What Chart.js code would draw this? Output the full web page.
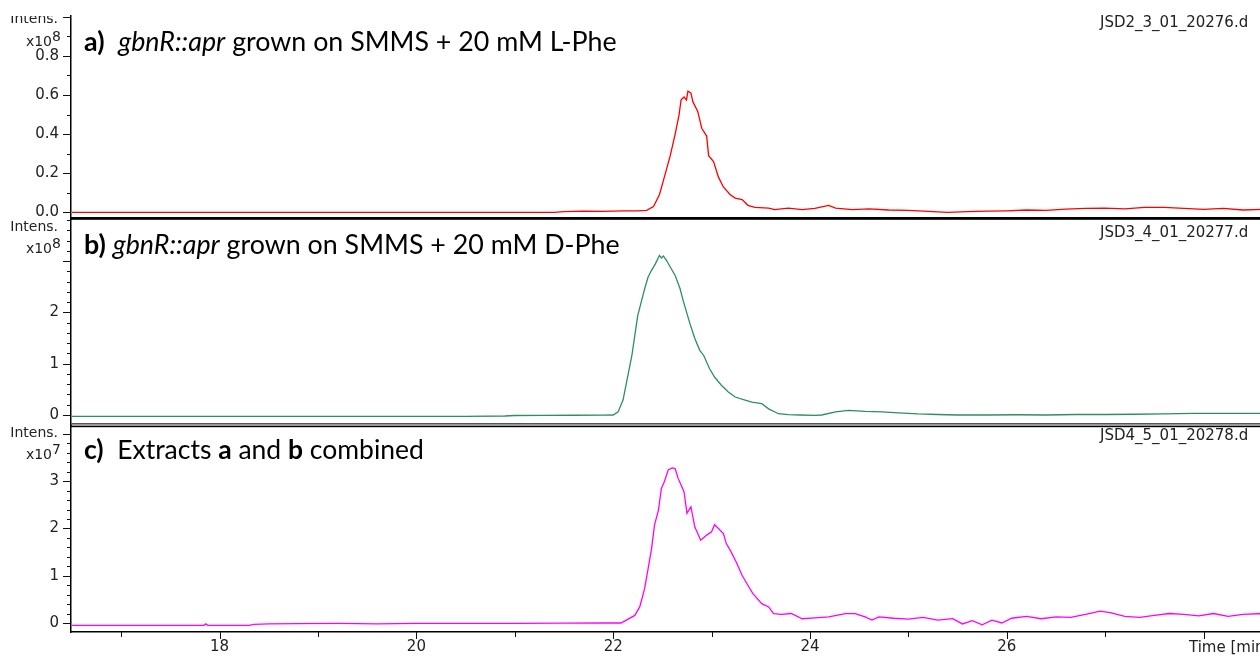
<!DOCTYPE html>
<html>
<head>
<meta charset="utf-8">
<script src="https://cdn.jsdelivr.net/npm/chart.js@4/dist/chart.umd.min.js"></script>
<style>
  html, body { margin: 0; padding: 0; background: #fff; overflow: hidden; }
  #wrap { position: relative; width: 1300px; height: 658px; }
</style>
</head>
<body>
<div id="wrap"><canvas id="chrom"></canvas></div>
<script>

// a) L-Phe, x10^8
const timeA = [16.5, 17.5, 18.5, 19.5, 20.5, 21.4, 21.5, 21.7, 21.9, 22.1, 22.25, 22.34, 22.41, 22.47,
  22.52, 22.58, 22.63, 22.67, 22.69, 22.72, 22.745, 22.76, 22.79, 22.81, 22.86, 22.9, 22.95, 22.97,
  23.02, 23.07, 23.12, 23.19, 23.24, 23.31, 23.37, 23.44, 23.58, 23.64, 23.78, 23.92, 24.05, 24.19,
  24.26, 24.43, 24.6, 24.8, 25.0, 25.2, 25.4, 25.6, 25.8, 26.0, 26.2, 26.4, 26.6, 26.8, 27.0, 27.2,
  27.4, 27.6, 27.8, 28.0, 28.2, 28.4, 28.6, 28.9];
const intensA = [0.0, 0.0, 0.0, 0.0, 0.0, 0.0, 0.004, 0.006, 0.005, 0.008, 0.008, 0.01, 0.03, 0.09,
  0.18, 0.29, 0.40, 0.50, 0.575, 0.59, 0.575, 0.62, 0.61, 0.566, 0.515, 0.43, 0.39, 0.29,
  0.26, 0.18, 0.13, 0.09, 0.073, 0.065, 0.036, 0.025, 0.022, 0.014, 0.022, 0.014, 0.02, 0.036,
  0.022, 0.014, 0.018, 0.012, 0.01, 0.005, 0.0, 0.004, 0.006, 0.008, 0.012, 0.01, 0.016, 0.02, 0.022, 0.018,
  0.025, 0.025, 0.02, 0.015, 0.02, 0.012, 0.015, 0.02];

// b) D-Phe, x10^8
const timeB = [16.5, 17.5, 18.5, 19.5, 20.5, 20.9, 21.0, 21.3, 21.6, 21.9, 22.0, 22.05, 22.1, 22.15,
  22.19, 22.22, 22.25, 22.29, 22.32, 22.355, 22.39, 22.43, 22.47, 22.49, 22.51, 22.54, 22.59, 22.63,
  22.68, 22.71, 22.745, 22.78, 22.83, 22.88, 22.92, 22.98, 23.03, 23.1, 23.17, 23.24, 23.34, 23.41,
  23.51, 23.58, 23.68, 23.78, 23.9, 24.05, 24.12, 24.26, 24.39, 24.56, 24.73, 24.9, 25.1, 25.3, 25.5,
  25.8, 26.1, 26.4, 26.7, 27.0, 27.3, 27.6, 27.9, 28.2, 28.6, 28.9];
const intensB = [-0.025, -0.025, -0.025, -0.025, -0.025, -0.02, -0.01, -0.008, -0.005, -0.002, 0.0, 0.06, 0.29, 0.77,
  1.16, 1.55, 1.94, 2.24, 2.46, 2.69, 2.82, 2.95, 3.11, 3.06, 3.10, 3.02, 2.85, 2.72,
  2.46, 2.24, 2.01, 1.78, 1.49, 1.26, 1.16, 0.90, 0.74, 0.58, 0.45, 0.35, 0.29, 0.25,
  0.22, 0.12, 0.025, 0.006, 0.0, -0.006, 0.0, 0.06, 0.09, 0.07, 0.06, 0.04, 0.02, 0.01, 0.0,
  0.0, 0.005, 0.0, 0.01, 0.01, 0.015, 0.02, 0.03, 0.03, 0.03, 0.03];

// c) a + b, x10^7
const timeC = [16.5, 17.5, 17.84, 17.86, 17.88, 18.3, 18.35, 18.5, 18.8, 19.2, 19.6, 20.0, 20.5, 21.0,
  21.5, 21.9, 22.08, 22.22, 22.27, 22.32, 22.355, 22.39, 22.42, 22.46, 22.49, 22.52, 22.56, 22.6,
  22.63, 22.66, 22.69, 22.72, 22.75, 22.79, 22.83, 22.89, 22.95, 23.0, 23.03, 23.07, 23.12, 23.15,
  23.2, 23.25, 23.31, 23.36, 23.42, 23.51, 23.58, 23.63, 23.71, 23.81, 23.92, 24.05, 24.19, 24.36,
  24.46, 24.56, 24.63, 24.7, 24.85, 25.0, 25.15, 25.3, 25.45, 25.55, 25.65, 25.75, 25.85, 25.95,
  26.05, 26.2, 26.35, 26.5, 26.65, 26.8, 26.95, 27.05, 27.2, 27.35, 27.5, 27.65, 27.8, 27.95, 28.1,
  28.25, 28.4, 28.6, 28.9];
const intensC = [-0.05, -0.05, -0.05, -0.02, -0.05, -0.05, -0.03, -0.02, -0.015, -0.01, -0.02, -0.01, -0.01, -0.01,
  -0.005, 0.0, 0.0, 0.16, 0.34, 0.73, 1.15, 1.57, 2.07, 2.39, 2.85, 2.99, 3.24, 3.28,
  3.27, 3.06, 2.92, 2.78, 2.32, 2.46, 2.03, 1.75, 1.86, 1.93, 2.08, 2.00, 1.89, 1.68,
  1.50, 1.29, 1.01, 0.83, 0.62, 0.41, 0.34, 0.20, 0.18, 0.20, 0.09, 0.11, 0.13, 0.20,
  0.20, 0.13, 0.06, 0.13, 0.10, 0.08, 0.12, 0.06, 0.09, -0.02, 0.05, -0.04, 0.06, 0.0,
  0.10, 0.14, 0.09, 0.13, 0.12, 0.18, 0.25, 0.22, 0.14, 0.12, 0.16, 0.20, 0.18, 0.15, 0.20,
  0.14, 0.18, 0.20, 0.18];

// rótulos dos eixos
const labelsA = [0, 0.2, 0.4, 0.6, 0.8];
const labelsB = [0, 1, 2];
const labelsC = [0, 1, 2, 3];
const labelsTime = [18, 20, 22, 24, 26];

// títulos e arquivos
const titleA = [['a)', 'bold'], ['  ', ''], ['gbnR::apr', 'italic'], [' grown on SMMS + 20 mM L-Phe', '']];
const titleB = [['b)', 'bold'], [' ', ''], ['gbnR::apr', 'italic'], [' grown on SMMS + 20 mM D-Phe', '']];
const titleC = [['c)', 'bold'], ['  Extracts ', ''], ['a', 'bold'], [' and ', ''], ['b', 'bold'], [' combined', '']];
const fileNames = ['JSD2_3_01_20276.d', 'JSD3_4_01_20277.d', 'JSD4_5_01_20278.d'];
const exponents = ['8', '8', '7'];

const toPoints = (t, v) => t.map((x, i) => ({ x, y: v[i] }));
const near = (v, list) => list.some(l => Math.abs(v - l) < 1e-6);

const majorStep = { ya: 0.2, yb: 1, yc: 1, x: 2 };
const AXIS_FONT = { family: 'DejaVu Sans', size: 15 };

// marcas de escala maiores e menores (Chart.js não tem minor ticks)
const tickMarks = {
  id: 'tickMarks',
  afterDraw(chart) {
    const ctx = chart.ctx;
    ctx.save();
    ctx.strokeStyle = '#111';
    ctx.lineWidth = 1;
    ['ya', 'yb', 'yc'].forEach(id => {
      const s = chart.scales[id];
      s.ticks.forEach(t => {
        const r = t.value / majorStep[id];
        const len = Math.abs(r - Math.round(r)) < 1e-6 ? 8 : 4;
        const y = Math.round(s.getPixelForValue(t.value)) + 0.5;
        ctx.beginPath();
        ctx.moveTo(s.right - len, y);
        ctx.lineTo(s.right, y);
        ctx.stroke();
      });
    });
    const sx = chart.scales.x;
    sx.ticks.forEach(t => {
      const len = t.value % 2 === 0 ? 7 : 5;
      const x = Math.round(sx.getPixelForValue(t.value)) + 0.5;
      ctx.beginPath();
      ctx.moveTo(x, sx.top);
      ctx.lineTo(x, sx.top + len);
      ctx.stroke();
    });
    ctx.restore();
  }
};

function drawRich(ctx, x, y, segs, size) {
  segs.forEach(([txt, style]) => {
    ctx.font = `${style} ${size}px Lato`;
    ctx.fillText(txt, x, y);
    x += ctx.measureText(txt).width;
  });
}

// textos: títulos, "Intens.", x10^n, nomes dos arquivos, separadores
const annotations = {
  id: 'annotations',
  afterDraw(chart) {
    const ctx = chart.ctx;
    const area = chart.chartArea;
    ctx.save();

    // linhas duplas entre painéis
    ctx.fillStyle = '#000';
    ctx.fillRect(area.left, 217, chart.width - area.left, 2.8);
    ctx.fillStyle = '#555';
    ctx.fillRect(area.left, 423, chart.width - area.left, 1.6);
    ctx.fillStyle = '#000';
    ctx.fillRect(area.left, 425.6, chart.width - area.left, 1.6);

    ctx.fillStyle = '#000';
    ctx.textAlign = 'left';
    ctx.textBaseline = 'alphabetic';
    drawRich(ctx, 84, 51, titleA, 26.8);
    drawRich(ctx, 84, 254, titleB, 26.8);
    drawRich(ctx, 84, 459, titleC, 26.5);

    ctx.fillStyle = '#222';
    ctx.font = '15px "DejaVu Sans"';
    fileNames.forEach((f, i) => ctx.fillText(f, 1100, [26.5, 236.5, 440][i]));
    ctx.fillText('Time [min]', 1189, 652);

    ctx.font = '14px "DejaVu Sans"';
    ctx.textAlign = 'right';
    const intensY = [23, 231, 437];
    const powY = [46, 253, 459];
    intensY.forEach((y, i) => {
      ctx.save();
      if (i === 0) { ctx.beginPath(); ctx.rect(0, 16, 70, 40); ctx.clip(); }
      ctx.fillText('Intens.', 58, y);
      ctx.restore();
      ctx.fillText('x10', 52, powY[i]);
      ctx.textAlign = 'left';
      ctx.fillText(exponents[i], 52, powY[i] - 5);
      ctx.textAlign = 'right';
    });
    ctx.restore();
  }
};

function yAxis(min, max, step, labels, weight, stackWeight) {
  return {
    type: 'linear',
    position: 'left',
    stack: 'panels',
    stackWeight,
    weight,
    min, max,
    border: { display: true, color: '#000', width: 1.5 },
    grid: { display: false, drawTicks: true, tickLength: 8 },
    ticks: {
      stepSize: step,
      autoSkip: false,
      includeBounds: false,
      padding: 4,
      color: '#222',
      font: AXIS_FONT,
      callback: v => near(v, labels) ? (step < 0.2 ? v.toFixed(1) : String(Math.round(v))) : ''
    },
    afterFit: s => { s.width = 71; }
  };
}

const trace = (label, t, v, color, yAxisID) => ({
  label,
  data: toPoints(t, v),
  yAxisID,
  borderColor: color,
  borderWidth: 1.3,
  pointRadius: 0,
  tension: 0,
  fill: false
});

new Chart(document.getElementById('chrom'), {
  type: 'line',
  data: {
    datasets: [
      trace('a', timeA, intensA, '#ff0000', 'ya'),
      trace('b', timeB, intensB, '#2e8f5e', 'yb'),
      trace('c', timeC, intensC, '#ff00ff', 'yc')
    ]
  },
  options: {
    responsive: true,
    maintainAspectRatio: false,
    animation: false,
    layout: { padding: { top: 16, left: 0, right: 0, bottom: 0 } },
    plugins: { legend: { display: false }, tooltip: { enabled: false } },
    scales: {
      x: {
        type: 'linear',
        position: 'bottom',
        min: 16.49,
        max: 28.98,
        border: { display: true, color: '#000', width: 1.5 },
        grid: { display: false, drawTicks: false },
        ticks: {
          stepSize: 1,
          autoSkip: false,
          includeBounds: false,
          maxRotation: 0,
          padding: 6,
          color: '#222',
          font: AXIS_FONT,
          callback: v => near(v, labelsTime) ? String(v) : ''
        },
        afterFit: s => { s.height = 26; }
      },
      ya: yAxis(-0.034, 1.004, 0.1, labelsA, 3, 203),
      yb: yAxis(-0.195, 3.82, 0.2, labelsB, 2, 206),
      yc: yAxis(-0.191, 4.19, 0.2, labelsC, 1, 207)
    }
  },
  plugins: [tickMarks, annotations]
});
</script>
</body>
</html>
